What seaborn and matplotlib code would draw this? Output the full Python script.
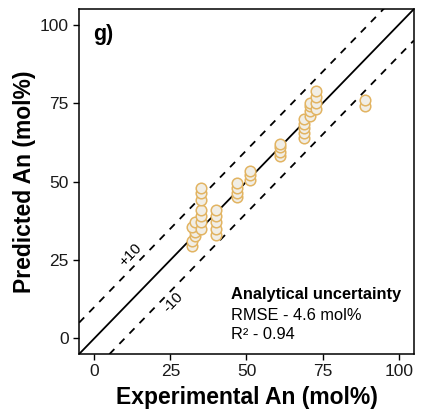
import numpy as np
import pandas as pd
import matplotlib
matplotlib.use("Agg")
import matplotlib.pyplot as plt
import seaborn as sns

# experimental vs predicted An (mol%)
exp_an = [32, 32, 33, 33, 32, 33,
          35, 35, 35, 35, 35, 35, 35,
          40, 40, 40, 40, 40,
          47, 47, 47, 47,
          51, 51, 51,
          61, 61, 61, 61,
          69, 69, 69, 69, 69,
          71, 71, 71, 71,
          73, 73, 73, 73,
          89, 89]
pred_an = [29.5, 31, 32.5, 34, 35.5, 37,
           35, 37, 39, 41, 44, 46.5, 48,
           33, 35, 37, 39, 41,
           45, 46.5, 48, 49.5,
           50.5, 52, 53.5,
           58, 59.5, 61, 62,
           64, 65.5, 67, 68.5, 70,
           71, 72.5, 74, 75,
           73, 75, 77, 79,
           74, 76]
ticks = [0, 25, 50, 75, 100]
stats_lines = ["RMSE - 4.6 mol%", "R² - 0.94"]

df = pd.DataFrame({"exp": exp_an, "pred": pred_an})

sns.set_style("ticks")
plt.rcParams["font.family"] = ["Liberation Sans", "DejaVu Sans"]
plt.rcParams["text.color"] = "black"
plt.rcParams["axes.labelcolor"] = "black"

fig = plt.figure(figsize=(4.21, 4.15), dpi=100)
ax = fig.add_axes([0.188, 0.147, 0.795, 0.831])

lims = np.array([-5, 105])
ax.plot(lims, lims, color="black", lw=1.3, zorder=1)
ax.plot(lims, lims + 10, color="black", lw=1.3, ls=(0, (4, 4)), zorder=1)
ax.plot(lims, lims - 10, color="black", lw=1.3, ls=(0, (4, 4)), zorder=1)

sns.scatterplot(data=df, x="exp", y="pred", ax=ax, s=58,
                facecolor="#f1eee6", edgecolor="#e2b462", linewidth=1.1,
                zorder=3)

ax.set_xlim(lims)
ax.set_ylim(lims)
ax.set_xticks(ticks)
ax.set_yticks(ticks)
ax.tick_params(labelsize=12.5, length=4, width=1, colors="black",
               labelcolor="#1a1a1a")
for sp in ax.spines.values():
    sp.set_visible(True)
    sp.set_linewidth(1.1)
    sp.set_color("black")

ax.set_xlabel("Experimental An (mol%)", fontsize=16.5, fontweight="bold", labelpad=5)
ax.set_ylabel("Predicted An (mol%)", fontsize=16.5, fontweight="bold", labelpad=3)

ax.text(-0.5, 97, "g)", fontsize=15.5, fontweight="bold", va="center")
ax.text(11.8, 26.5, "+10", fontsize=11, rotation=46, ha="center", va="center")
ax.text(26, 11.5, "-10", fontsize=11, rotation=46, ha="center", va="center")

ax.text(44.8, 14, "Analytical uncertainty", fontsize=11.8, fontweight="bold", va="center")
ax.text(44.8, 7.4, stats_lines[0], fontsize=11.8, va="center")
ax.text(44.8, 1.3, stats_lines[1], fontsize=11.8, va="center")

fig.savefig("out.png", dpi=100)
